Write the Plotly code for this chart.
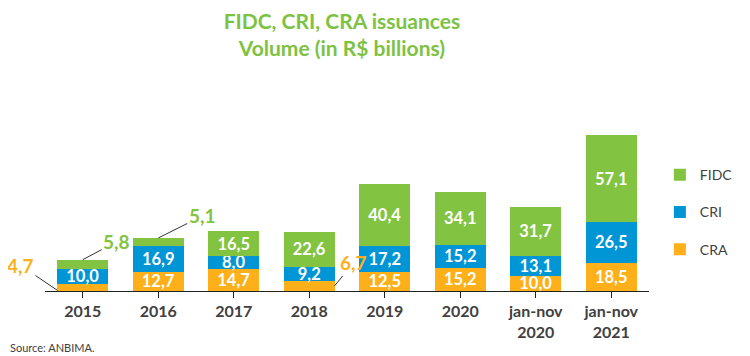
import plotly.graph_objects as go

categories = ["2015", "2016", "2017", "2018", "2019", "2020", "jan-nov<br>2020", "jan-nov<br>2021"]
cra = [4.7, 12.7, 14.7, 6.7, 12.5, 15.2, 10.0, 18.5]
cri = [10.0, 16.9, 8.0, 9.2, 17.2, 15.2, 13.1, 26.5]
fidc = [5.8, 5.1, 16.5, 22.6, 40.4, 34.1, 31.7, 57.1]

# values shown outside their bars with a leader line (series, category index)
outside = {("CRA", 0), ("FIDC", 0), ("FIDC", 1), ("CRA", 3)}

C_FIDC = "#82C341"
C_CRI = "#0096D6"
C_CRA = "#FDB019"
DARK = "#404040"
FONT = "Lato"

def fmt(v):
    return f"{v:.1f}".replace(".", ",")

fig = go.Figure()
xs = list(range(len(categories)))
for rank, (name, vals, col) in zip([3, 2, 1], [("CRA", cra, C_CRA), ("CRI", cri, C_CRI), ("FIDC", fidc, C_FIDC)]):
    txt = ["" if (name, i) in outside else fmt(v) for i, v in enumerate(vals)]
    fig.add_trace(go.Bar(
        x=xs, y=vals, name=name, marker_color=col, marker_line_width=0,
        text=txt, textposition="inside", insidetextanchor="middle",
        textangle=0, constraintext="none",
        textfont=dict(family=FONT, size=16.5, color="white", weight="bold"),
        legendgroup=name, legendrank=rank, hoverinfo="skip",
    ))

def top(i):
    return cra[i] + cri[i] + fidc[i]

anns = [
    dict(x=-0.335, y=0.4, text=fmt(cra[0]), color=C_CRA, ax=-37, ay=-25),
    dict(x=0, y=top(0), text=fmt(fidc[0]), color=C_FIDC, ax=34, ay=-18),
    dict(x=1, y=top(1), text=fmt(fidc[1]), color=C_FIDC, ax=44, ay=-22),
    dict(x=3.335, y=cra[3] / 2, text=fmt(cra[3]), color=C_CRA, ax=19, ay=-23),
]
for a in anns:
    fig.add_annotation(
        x=a["x"], y=a["y"], xref="x", yref="y", text=a["text"],
        showarrow=True, arrowhead=0, arrowwidth=1, arrowcolor="#333333",
        ax=a["ax"], ay=a["ay"], standoff=0,
        font=dict(family=FONT, size=19, color=a["color"], weight="bold"),
    )

fig.add_annotation(
    xref="paper", yref="paper", x=-0.061, y=-0.298, xanchor="left", yanchor="middle",
    text="Source: ANBIMA.", showarrow=False,
    font=dict(family=FONT, size=11, color=DARK),
)

# page body has an 8px margin: figure is sized 742x348 so it fills the 750x356 window
fig.update_layout(
    width=742, height=348,
    margin=dict(l=37, r=97, t=92, b=65),
    paper_bgcolor="white", plot_bgcolor="white",
    barmode="stack", bargap=0.33,
    title=dict(
        text="FIDC, CRI, CRA issuances<br>Volume (in R$ billions)",
        x=0.45, xanchor="center", xref="container",
        y=0.941, yanchor="middle", yref="container",
        font=dict(family=FONT, size=21, color="#7DC242", weight="bold"),
    ),
    legend=dict(
        x=1.018, xanchor="left", y=0.69, yanchor="top",
        traceorder="grouped", tracegroupgap=16,
        font=dict(family=FONT, size=14, color=DARK),
        bgcolor="rgba(0,0,0,0)",
    ),
    showlegend=True,
)
fig.update_xaxes(
    tickmode="array", tickvals=xs, ticktext=categories,
    range=[-0.5, len(categories) - 0.5],
    showline=True, linecolor="#222222", linewidth=1,
    ticks="outside", ticklen=6, tickcolor="#222222", tickson="boundaries",
    showgrid=False, zeroline=False,
    tickfont=dict(family=FONT, size=16, color=DARK, weight="bold"),
)
fig.update_yaxes(range=[0, 125], visible=False, showgrid=False)

fig.write_html("out.html")
